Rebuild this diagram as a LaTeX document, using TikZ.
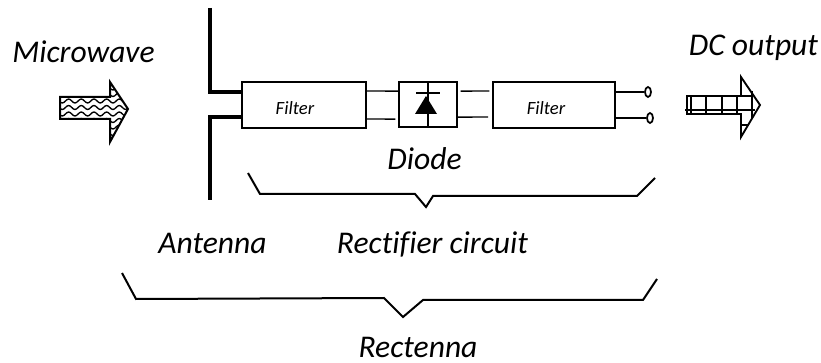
\documentclass[tikz,border=0pt]{standalone}
\usepackage{fontspec}
\setmainfont{Carlito}[Ligatures=NoCommon]
\usetikzlibrary{decorations.pathmorphing, shapes.geometric}

\begin{document}
\begin{tikzpicture}[
  x=.75pt, y=-.75pt,
  font=\itshape\fontsize{23.7}{28}\selectfont,
  wire/.style={line width=1.1pt},
  antenna/.style={line width=3pt},
  brace/.style={line width=1.5pt, line join=miter},
  blk/.style={draw, line width=1.4pt, inner sep=0pt},
  term/.style={ellipse, draw, line width=1.3pt, minimum width=4.5pt, minimum height=7.5pt, inner sep=0pt},
  lbl/.style={inner sep=0pt, anchor=base},
  small/.style={font=\itshape\fontsize{14}{16}\selectfont, inner sep=0pt},
  wave/.style={line width=1pt, decorate, decoration={snake, amplitude=1.5pt, segment length=9.5pt}},
  hatch/.style={line width=1.1pt},
]
  \useasboundingbox (0,0) rectangle (821,363);

  \foreach \name/\x/\y/\w/\h in {filterA/304/105/124/46, diode/428/104.5/58/45, filterB/554/105/122/46}
    \node[blk, minimum width=\w*.75pt, minimum height=\h*.75pt] (\name) at (\x, \y) {};
  \node[small] (filterAlab) at (295, 108) {Filter};
  \node[small] (filterBlab) at (546, 108) {Filter};

  \node[term] (termA) at (648, 92) {};
  \node[term] (termB) at (650, 118) {};

  % antenna arms end on the first filter
  \draw[antenna] (210, 8) |- ([yshift=9.75pt]filterA.west);
  \draw[antenna] (210, 200) |- ([yshift=-9pt]filterA.west);

  % wires between the blocks, with the small gaps of the drawing
  \draw[wire] ([yshift=10.5pt]filterA.east) -- ([yshift=10.1pt]diode.west);
  \draw[wire, shorten >=2pt] ([yshift=-10.5pt]filterA.east) -- ([yshift=-10.9pt]diode.west);
  \draw[wire, shorten <=2pt, shorten >=2pt] ([yshift=10.1pt]diode.east) -- ([yshift=10.5pt]filterB.west);
  \draw[wire, shorten >=3pt] ([yshift=-9.4pt]diode.east) -- ([yshift=-9pt]filterB.west);
  \draw[wire] ([yshift=9.75pt]filterB.east) -- (termA);
  \draw[wire] ([yshift=-9.75pt]filterB.east) -- (termB);

  % diode symbol
  \draw[wire] (diode.north) -- (diode.south);
  \draw[wire] (416, 93) -- (440, 93);
  \fill (426, 96) -- (437, 114) -- (415, 114) -- cycle;

  % brackets
  \draw[brace] (248, 173) -- (260, 194) -- (415, 194) -- (426, 207) -- (433, 196) -- (637, 196) -- (655, 178);
  \draw[brace] (122, 273) -- (136, 299) -- (384, 298) -- (403, 317) -- (423, 300) -- (643, 300) -- (657, 279);

  % microwave arrow, wavy fill
  \begin{scope}
    \clip (60, 97) -- (110, 97) -- (110, 82) -- (128, 109) -- (110, 142) -- (110, 119) -- (60, 119) -- cycle;
    \foreach \y in {88, 94.5, ..., 140}
      \draw[wave] (52, \y) -- (135, \y);
  \end{scope}
  \draw[line width=1.5pt] (60, 97) -- (110, 97) -- (110, 82) -- (128, 109) -- (110, 142) -- (110, 119) -- (60, 119) -- cycle;

  % dc arrow, grid fill
  \foreach \x in {691, 706, 722, 737}
    \draw[hatch] (\x, 96) -- (\x, 114);
  \draw[hatch] (752, 91) -- (752, 119);
  \draw[hatch] (685, 110) -- (755, 110);
  \draw[hatch] (741, 96) -- (751, 96);
  \draw[hatch] (741, 125) -- (748, 125);
  \draw[line width=1.4pt] (687, 96) -- (741, 96) -- (741, 77) -- (760, 105) -- (741, 137) -- (741, 114) -- (687, 114) -- cycle;

  \foreach \name/\x/\y/\txt in {%
      microwave/83.5/63/Microwave, dcout/753.5/56/DC output, diodelab/424.5/170/Diode,
      antennalab/212.5/254/Antenna, rectifier/432.5/254/Rectifier circuit, rectenna/418/357/Rectenna}
    \node[lbl] (\name) at (\x, \y) {\txt};
\end{tikzpicture}
\end{document}
